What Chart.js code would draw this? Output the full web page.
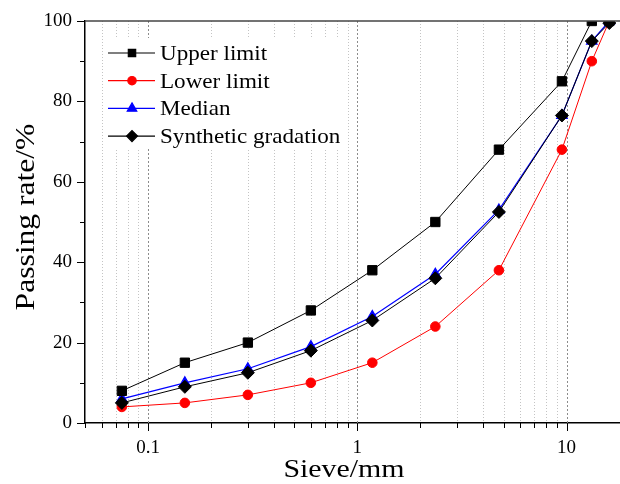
<!DOCTYPE html>
<html>
<head>
<meta charset="utf-8">
<script src="https://cdn.jsdelivr.net/npm/chart.js@4.4.0/dist/chart.umd.min.js"></script>
<style>
  html, body { margin: 0; padding: 0; background: #fff; }
  #gradationChart { display: block; }
</style>
</head>
<body>
<canvas id="gradationChart" width="620" height="484"></canvas>
<script>
// sieve sizes (mm) and passing rates (%)
var sieveSizes = [0.075, 0.15, 0.3, 0.6, 1.18, 2.36, 4.75, 9.5, 13.2, 16];
var upperLimit = [8, 15, 20, 28, 38, 50, 68, 85, 100, 100];
var lowerLimit = [4, 5, 7, 10, 15, 24, 38, 68, 90, 100];
var median = [6, 10, 13.5, 19, 26.5, 37, 53, 76.5, 95, 100];
var synthetic = [5, 9, 12.5, 18, 25.5, 36, 52.5, 76.5, 95, 99.5];

var seriesNames = ['Upper limit', 'Lower limit', 'Median', 'Synthetic gradation'];
var xTickLabels = [0.1, 1, 10];
var yTickLabels = [0, 20, 40, 60, 80, 100];

var serif = "'Liberation Serif', 'Times New Roman', serif";

function toPoints(values) {
  return values.map(function (v, i) { return { x: sieveSizes[i], y: v }; });
}

// 1..9 x 10^n between the axis limits
function logTicks(min, max) {
  var out = [];
  for (var d = -2; d <= 1; d++) {
    for (var m = 1; m <= 9; m++) {
      var v = parseFloat((m * Math.pow(10, d)).toPrecision(3));
      if (v >= min && v <= max) out.push(v);
    }
  }
  return out;
}

function isLabelled(list, v) {
  return list.some(function (t) { return Math.abs(t - v) < 1e-9; });
}

// text in this figure is slightly wide, so squeeze it out horizontally
function wideText(ctx, text, x, y, sx, align) {
  ctx.save();
  ctx.translate(x, y);
  ctx.scale(sx, 1);
  ctx.textAlign = align;
  ctx.fillText(text, 0, 0);
  ctx.restore();
}

// keep the plot box fixed: no extra room for overhanging tick labels
function noOverhang(scale) {
  scale.paddingLeft = 0;
  scale.paddingRight = 0;
  scale.paddingTop = 0;
  scale.paddingBottom = 0;
}

var gridPlugin = {
  id: 'gridPlugin',
  beforeDatasetsDraw: function (chart) {
    var ctx = chart.ctx, area = chart.chartArea, xs = chart.scales.x;
    ctx.save();
    ctx.lineWidth = 1;
    xs.ticks.forEach(function (t) {
      var px = Math.round(xs.getPixelForValue(t.value)) + 0.5;
      if (px <= area.left + 2 || px >= area.right - 1) return;
      var major = isLabelled(xTickLabels, t.value);
      ctx.strokeStyle = major ? '#8c8c8c' : '#c4c4c4';
      ctx.setLineDash(major ? [2, 2] : [1, 2]);
      ctx.beginPath();
      ctx.moveTo(px, area.top);
      ctx.lineTo(px, area.bottom);
      ctx.stroke();
    });
    ctx.restore();
  },
  afterDraw: function (chart) {
    var ctx = chart.ctx, area = chart.chartArea;
    var xs = chart.scales.x, ys = chart.scales.y;
    ctx.save();

    // top frame line
    ctx.strokeStyle = '#444';
    ctx.lineWidth = 1.5;
    ctx.beginPath();
    ctx.moveTo(area.left, area.top);
    ctx.lineTo(area.right, area.top);
    ctx.stroke();

    // tick marks, pointing outwards
    ctx.strokeStyle = '#000';
    ctx.lineWidth = 1;
    xs.ticks.forEach(function (t) {
      var px = Math.round(xs.getPixelForValue(t.value)) + 0.5;
      var len = isLabelled(xTickLabels, t.value) ? 8 : 5;
      ctx.beginPath();
      ctx.moveTo(px, area.bottom);
      ctx.lineTo(px, area.bottom + len);
      ctx.stroke();
    });
    ys.ticks.forEach(function (t) {
      var py = Math.round(ys.getPixelForValue(t.value)) + 0.5;
      var len = isLabelled(yTickLabels, t.value) ? 8 : 5;
      ctx.beginPath();
      ctx.moveTo(area.left, py);
      ctx.lineTo(area.left - len, py);
      ctx.stroke();
    });

    // axis titles
    ctx.fillStyle = '#000';
    ctx.textBaseline = 'alphabetic';
    ctx.font = '26px ' + serif;
    wideText(ctx, 'Sieve/mm', 344, 477, 1.15, 'center');
    ctx.save();
    ctx.translate(34, 217);
    ctx.rotate(-Math.PI / 2);
    ctx.font = '27px ' + serif;
    wideText(ctx, 'Passing rate/%', 0, 0, 1.17, 'center');
    ctx.restore();

    // legend with line + marker samples
    ctx.fillStyle = '#fff';
    ctx.fillRect(104, 38, 244, 110);
    var legendMarks = [
      { style: 'rect', r: 5.2 },
      { style: 'circle', r: 4.2 },
      { style: 'triangle', r: 5.5 },
      { style: 'rectRot', r: 5.5 }
    ];
    chart.data.datasets.forEach(function (ds, i) {
      var cy = 53 + i * 27.7;
      ctx.strokeStyle = ds.borderColor;
      ctx.fillStyle = ds.borderColor;
      ctx.lineWidth = 1.2;
      ctx.setLineDash([]);
      ctx.beginPath();
      ctx.moveTo(108, cy);
      ctx.lineTo(155, cy);
      ctx.stroke();
      Chart.helpers.drawPoint(ctx, {
        pointStyle: legendMarks[i].style, radius: legendMarks[i].r, rotation: 0, borderWidth: 1
      }, 132, cy);
      ctx.fillStyle = '#000';
      ctx.font = '21px ' + serif;
      ctx.textBaseline = 'alphabetic';
      wideText(ctx, ds.label, 160, cy + 7, 1.1, 'left');
    });
    ctx.restore();
  }
};

var ctx = document.getElementById('gradationChart').getContext('2d');
var chart = new Chart(ctx, {
  type: 'line',
  data: {
    datasets: [
      {
        label: seriesNames[0],
        data: toPoints(upperLimit),
        borderColor: '#000000',
        backgroundColor: '#000000',
        pointStyle: 'rect',
        pointRadius: 6.6,
        borderWidth: 1,
        clip: 0,
        order: 1
      },
      {
        label: seriesNames[1],
        data: toPoints(lowerLimit),
        borderColor: '#ff0000',
        backgroundColor: '#ff0000',
        pointStyle: 'circle',
        pointRadius: 4.8,
        borderWidth: 1,
        clip: 0,
        order: 3
      },
      {
        label: seriesNames[2],
        data: toPoints(median),
        borderColor: '#0000ff',
        backgroundColor: '#0000ff',
        pointStyle: 'triangle',
        pointRadius: 6,
        borderWidth: 1.2,
        clip: 0,
        order: 2
      },
      {
        label: seriesNames[3],
        data: toPoints(synthetic),
        borderColor: '#000000',
        backgroundColor: '#000000',
        pointStyle: 'rectRot',
        pointRadius: 6.5,
        borderWidth: 1,
        clip: 0,
        order: 0
      }
    ]
  },
  options: {
    responsive: false,
    animation: false,
    events: [],
    layout: { autoPadding: false, padding: { top: 21, right: 0, left: 0, bottom: 0 } },
    plugins: {
      legend: { display: false },
      tooltip: { enabled: false }
    },
    elements: {
      line: { tension: 0 },
      point: { borderWidth: 1 }
    },
    scales: {
      x: {
        type: 'logarithmic',
        min: 0.05,
        max: 18,
        afterBuildTicks: function (scale) {
          scale.ticks = logTicks(0.05, 18).map(function (v) { return { value: v }; });
        },
        afterFit: function (scale) { scale.height = 61; noOverhang(scale); },
        grid: { display: false, drawTicks: false },
        border: { display: true, color: '#000', width: 1.5 },
        ticks: {
          autoSkip: false,
          maxRotation: 0,
          padding: 14,
          color: '#000',
          font: { family: serif, size: 19 },
          callback: function (v) { return isLabelled(xTickLabels, v) ? String(v) : ''; }
        }
      },
      y: {
        min: 0,
        max: 100,
        afterBuildTicks: function (scale) {
          var t = [];
          for (var v = 0; v <= 100; v += 10) t.push({ value: v });
          scale.ticks = t;
        },
        afterFit: function (scale) { scale.width = 85; noOverhang(scale); },
        grid: { display: false, drawTicks: false },
        border: { display: true, color: '#000', width: 1.5 },
        ticks: {
          padding: 13,
          color: '#000',
          font: { family: serif, size: 19 },
          callback: function (v) { return isLabelled(yTickLabels, v) ? String(v) : ''; }
        }
      }
    }
  },
  plugins: [gridPlugin]
});
</script>
</body>
</html>
